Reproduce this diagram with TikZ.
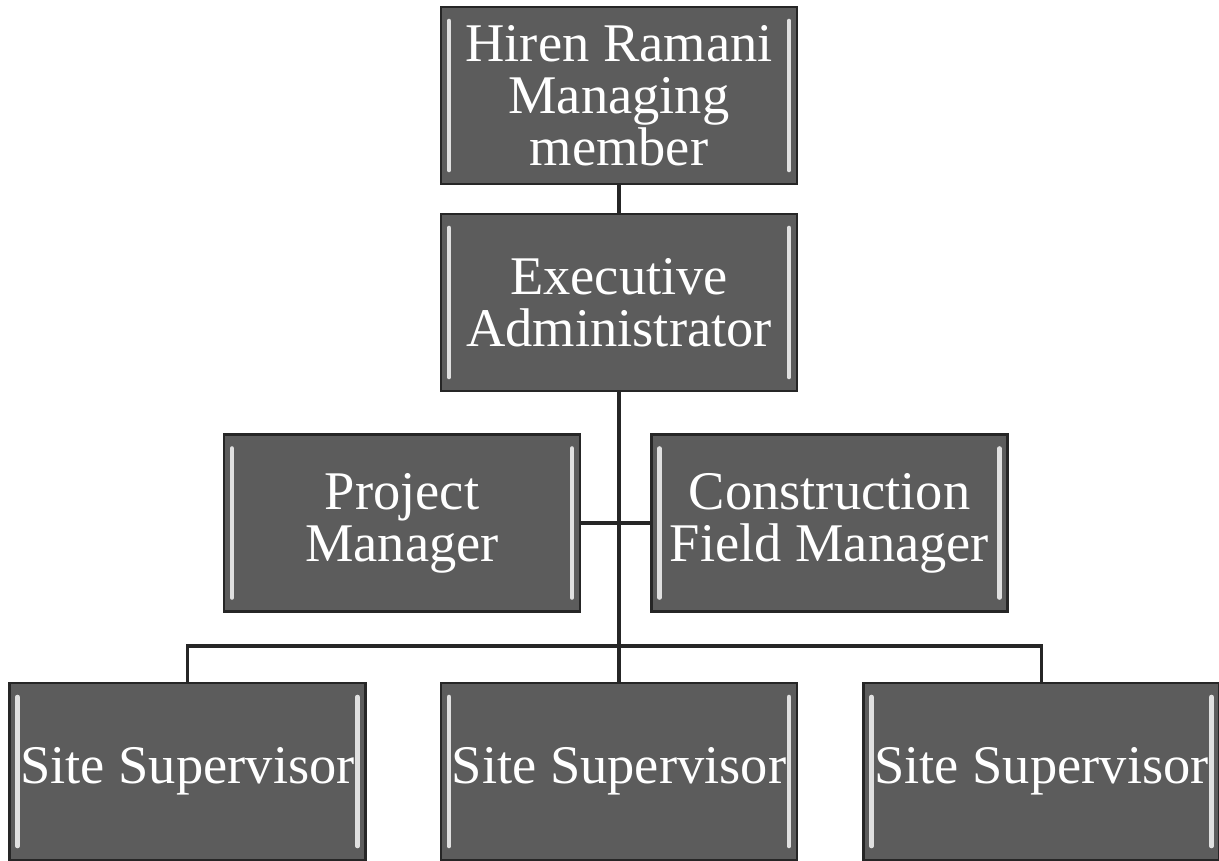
\documentclass[tikz,border=0pt]{standalone}
\usepackage{fontspec}
\setmainfont{Liberation Serif}

\begin{document}
\begin{tikzpicture}[
        box/.style={rectangle, draw=black!85, line width=0.6pt, fill=black!64,
            text=white, align=center, inner sep=0pt,
            minimum width=3.56cm, minimum height=1.77cm,
            font=\fontsize{15.5}{14.8}\selectfont,
            path picture={
                \draw[black!12, line width=1.3pt, line cap=round]
                    ([xshift=0.08cm,yshift=-0.14cm]path picture bounding box.north west) --
                    ([xshift=0.08cm,yshift=0.14cm]path picture bounding box.south west);
                \draw[black!12, line width=1.3pt, line cap=round]
                    ([xshift=-0.08cm,yshift=-0.14cm]path picture bounding box.north east) --
                    ([xshift=-0.08cm,yshift=0.14cm]path picture bounding box.south east);
            }},
        link/.style={draw=black!85, line width=0.9pt}
    ]
        \useasboundingbox (0,0) rectangle (12.19,-8.6);

        % Kierownictwo
        \node[box] (boss) at (6.19,-0.955) {Hiren Ramani\\Managing\\member};
        \node[box] (exec) at (6.19,-3.025) {Executive\\Administrator};

        % Kierownicy
        \node[box] (pm) at (4.02,-5.23) {Project\\Manager};
        \node[box] (cfm) at (8.295,-5.23) {Construction\\Field Manager};

        % Nadzor budowy
        \node[box] (ss1) at (1.875,-7.715) {Site Supervisor};
        \node[box] (ss2) at (6.19,-7.715) {Site Supervisor};
        \node[box] (ss3) at (10.415,-7.715) {Site Supervisor};

        % Polaczenia
        \coordinate (bus) at (6.19,-6.46);
        \draw[link] (boss) -- (exec);
        \draw[link] (exec) -- (bus);
        \draw[link] (pm.east) -- (cfm.west);
        \draw[link] (ss1) |- (bus) -| (ss3);
        \draw[link] (bus) -- (ss2);
    \end{tikzpicture}
\end{document}
